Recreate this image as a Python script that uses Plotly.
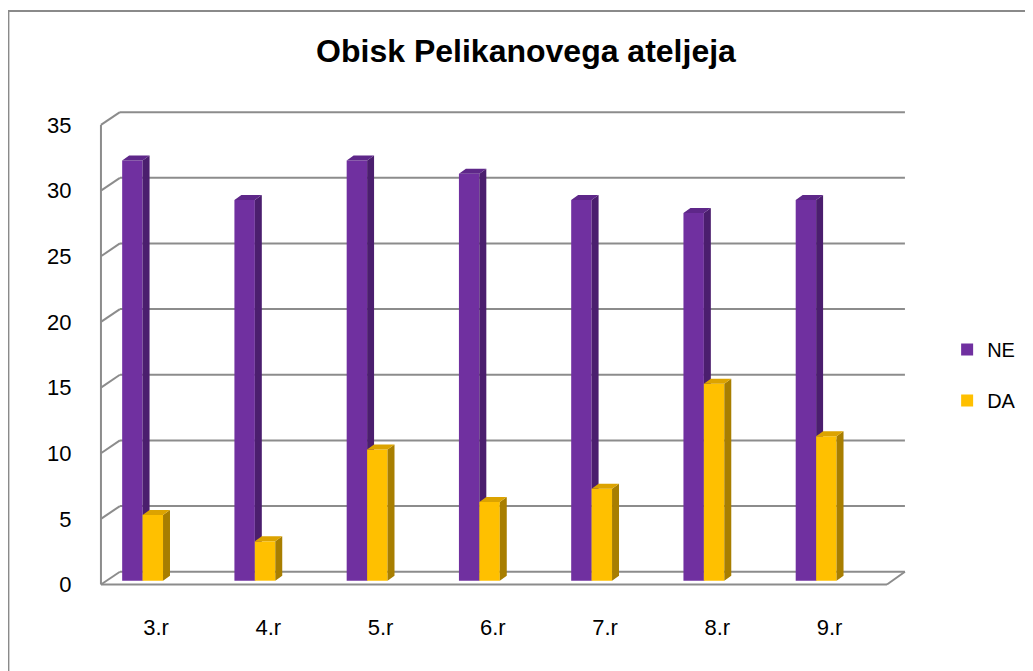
import plotly.graph_objects as go

# ---- data ----
categories = ["3.r", "4.r", "5.r", "6.r", "7.r", "8.r", "9.r"]
ne_values = [32, 29, 32, 31, 29, 28, 29]
da_values = [5, 3, 10, 6, 7, 15, 11]
series_names = ["NE", "DA"]
y_ticks = [0, 5, 10, 15, 20, 25, 30, 35]

# ---- styles ----
NE_FRONT, NE_SIDE, NE_TOP = "#7030A0", "#4B1E6E", "#5E2789"
DA_FRONT, DA_SIDE, DA_TOP = "#FFC000", "#A87E00", "#DCA300"
GRID = "#8C8C8C"
FONT = "Liberation Sans"

# ---- 3D-look geometry (axis units) ----
BAR_W = 0.182          # width of one bar front face
NE_OFF = -0.302        # left edge of NE bar relative to category
DA_OFF = NE_OFF + BAR_W
BAR_DX, BAR_DY = 0.062, 0.38    # bar depth (side/top faces)
FRONT_DY = -0.29       # front plane vertical offset
BACK_DY = 0.685        # back wall vertical offset
WALL_DX = 0.169        # horizontal depth of walls
FRONT_LEFT = -0.491
FRONT_RIGHT = 6.511
BACK_RIGHT = 6.671

X_RANGE = [-0.544, 6.734]
Y_RANGE = [-0.708, 36.61]

idx = list(range(len(categories)))

fig = go.Figure()


def add_series(values, name, off, front, side, top, yax, group):
    fig.add_trace(go.Bar(
        x=idx, y=values, base=0, offset=off, width=BAR_W, name=name,
        marker=dict(color=front, line=dict(width=0)), yaxis=yax,
        legendgroup=group, showlegend=True, hoverinfo="y"))
    sx, sy, tx, ty = [], [], [], []
    for i, v in zip(idx, values):
        xl, xr = i + off, i + off + BAR_W
        sx += [xr, xr + BAR_DX, xr + BAR_DX, xr, xr, None]
        sy += [0, BAR_DY, v + BAR_DY, v, 0, None]
        tx += [xl, xl + BAR_DX, xr + BAR_DX, xr, xl, None]
        ty += [v, v + BAR_DY, v + BAR_DY, v, v, None]
    fig.add_trace(go.Scatter(x=sx, y=sy, fill="toself", fillcolor=side, mode="lines",
                             line=dict(width=0, color=side), yaxis=yax,
                             showlegend=False, hoverinfo="skip", legendgroup=group))
    fig.add_trace(go.Scatter(x=tx, y=ty, fill="toself", fillcolor=top, mode="lines",
                             line=dict(width=0, color=top), yaxis=yax,
                             showlegend=False, hoverinfo="skip", legendgroup=group))


add_series(ne_values, series_names[0], NE_OFF, NE_FRONT, NE_SIDE, NE_TOP, "y", "g1")
add_series(da_values, series_names[1], DA_OFF, DA_FRONT, DA_SIDE, DA_TOP, "y2", "g2")

# ---- walls / gridlines ----
shapes = []
line = dict(color=GRID, width=2)
shapes.append(dict(type="line", xref="x", yref="y", x0=FRONT_LEFT, x1=FRONT_LEFT,
                   y0=FRONT_DY, y1=y_ticks[-1] + FRONT_DY, line=line, layer="below"))
for v in y_ticks:
    shapes.append(dict(type="line", xref="x", yref="y", x0=FRONT_LEFT, x1=FRONT_LEFT + WALL_DX,
                       y0=v + FRONT_DY, y1=v + BACK_DY, line=line, layer="below"))
    shapes.append(dict(type="line", xref="x", yref="y", x0=FRONT_LEFT + WALL_DX, x1=BACK_RIGHT,
                       y0=v + BACK_DY, y1=v + BACK_DY, line=line, layer="below"))
shapes.append(dict(type="line", xref="x", yref="y", x0=FRONT_LEFT, x1=FRONT_RIGHT,
                   y0=FRONT_DY, y1=FRONT_DY, line=line, layer="below"))
shapes.append(dict(type="line", xref="x", yref="y", x0=FRONT_RIGHT, x1=BACK_RIGHT,
                   y0=FRONT_DY, y1=BACK_DY, line=line, layer="below"))
shapes.append(dict(type="rect", xref="paper", yref="paper", x0=-0.106, x1=1.16,
                   y0=-0.19, y1=1.1816, line=dict(color="#8A8A8A", width=2),
                   fillcolor="rgba(0,0,0,0)", layer="below"))

fig.update_layout(
    width=1025, height=663,
    margin=dict(l=87, r=118, t=92, b=81),
    paper_bgcolor="white", plot_bgcolor="white",
    font=dict(family=FONT, color="#000000"),
    title=dict(text="Obisk Pelikanovega ateljeja", x=518 / 1025, xref="container", xanchor="center",
               y=1 - 43 / 663, yref="container", yanchor="middle",
               font=dict(family=FONT, size=32, color="#000000", weight="bold")),
    barmode="overlay",
    showlegend=True,
    legend=dict(x=1.043, xanchor="left", y=0.439, yanchor="middle",
                font=dict(family=FONT, size=20, color="#000000"),
                tracegroupgap=22, traceorder="grouped", bgcolor="rgba(0,0,0,0)"),
    xaxis=dict(range=X_RANGE, tickmode="array", tickvals=idx, ticktext=categories,
               showgrid=False, zeroline=False, showline=False, ticks="outside",
               ticklen=18, tickcolor="rgba(0,0,0,0)",
               tickfont=dict(family=FONT, size=22, color="#000000")),
    yaxis=dict(range=Y_RANGE, tickmode="array",
               tickvals=[v + FRONT_DY for v in y_ticks], ticktext=[str(v) for v in y_ticks],
               showgrid=False, zeroline=False, showline=False, ticks="outside",
               ticklen=18, tickcolor="rgba(0,0,0,0)",
               tickfont=dict(family=FONT, size=22, color="#000000")),
    yaxis2=dict(range=Y_RANGE, overlaying="y", visible=False),
    shapes=shapes,
)

fig.write_html("out.html")
